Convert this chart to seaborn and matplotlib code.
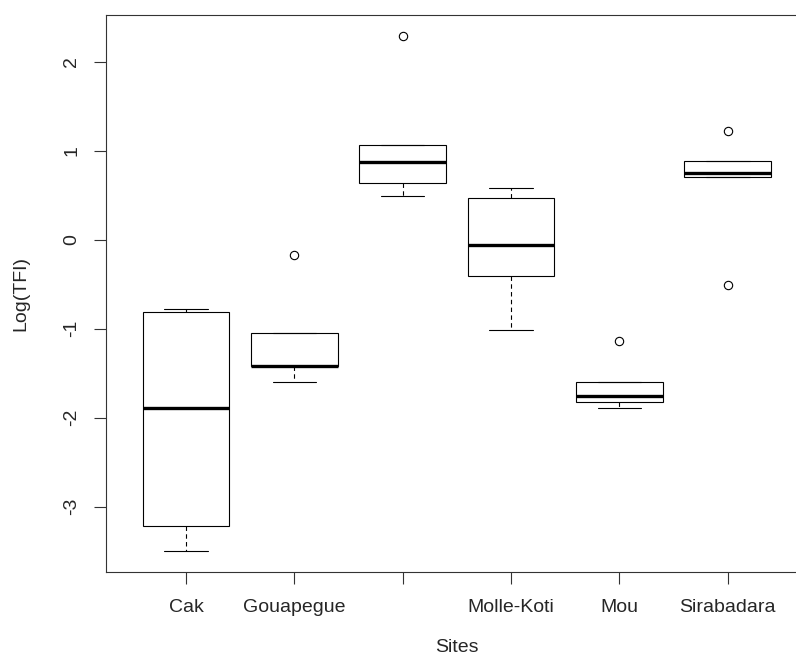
import numpy as np
import pandas as pd
import seaborn as sns
import matplotlib
matplotlib.use("Agg")
import matplotlib.pyplot as plt

# sites in R's (alphabetical) order, third label is not shown on the original axis
sites = ["Cak", "Gouapegue", "", "Molle-Koti", "Mou", "Sirabadara"]

# log(TFI) values per site (5 obs each -> q1/median/q3 land on points)
cak = [-3.50, -3.217, -1.893, -0.813, -0.776]
gouapegue = [-1.601, -1.425, -1.425, -1.049, -0.177]
site3 = [0.487, 0.641, 0.874, 1.065, 2.287]
molle_koti = [-1.016, -0.408, -0.056, 0.469, 0.582]
mou = [-1.893, -1.826, -1.763, -1.601, -1.139]
sirabadara = [-0.506, 0.700, 0.750, 0.881, 1.215]

values = [cak, gouapegue, site3, molle_koti, mou, sirabadara]
df = pd.concat([pd.DataFrame({"Sites": s, "Log(TFI)": v}) for s, v in zip(sites, values)])

sns.set_style("ticks")
plt.rcParams["font.family"] = ["Liberation Sans", "DejaVu Sans"]
plt.rcParams["font.size"] = 14

fig = plt.figure(figsize=(7.96, 6.55), dpi=100)
# R's plot region runs past the right edge of the saved picture
ax = fig.add_axes([0.1329, 0.1267, 0.8822, 0.8504])

lw = 0.8
sns.boxplot(data=df, x="Sites", y="Log(TFI)", order=sites,
            color="white", linecolor="black", linewidth=lw,
            width=0.8, whis=1.5, fliersize=6, ax=ax,
            medianprops=dict(color="black", linewidth=2.4),
            whiskerprops=dict(color="black", linewidth=lw, linestyle=(0, (4, 3))),
            capprops=dict(color="black", linewidth=lw),
            flierprops=dict(marker="o", markerfacecolor="none",
                            markeredgecolor="black", markeredgewidth=0.8))

ax.set_xlim(-0.74, 5.74)
ax.set_ylim(-3.735, 2.523)
ax.set_yticks([-3, -2, -1, 0, 1, 2])
ax.set_yticklabels(["-3", "-2", "-1", "0", "1", "2"], rotation=90, va="center")

for side in ["left", "right", "top", "bottom"]:
    ax.spines[side].set_visible(True)
    ax.spines[side].set_linewidth(lw)
    ax.spines[side].set_color("#333333")

ax.tick_params(axis="both", direction="out", length=8.5, width=lw,
               color="#333333", labelsize=14)
ax.tick_params(axis="x", pad=11)
ax.tick_params(axis="y", pad=10)
ax.set_xlabel("Sites", fontsize=14, labelpad=16.5)
ax.set_ylabel("Log(TFI)", fontsize=14, labelpad=24)

plt.savefig("out.png", dpi=100)
